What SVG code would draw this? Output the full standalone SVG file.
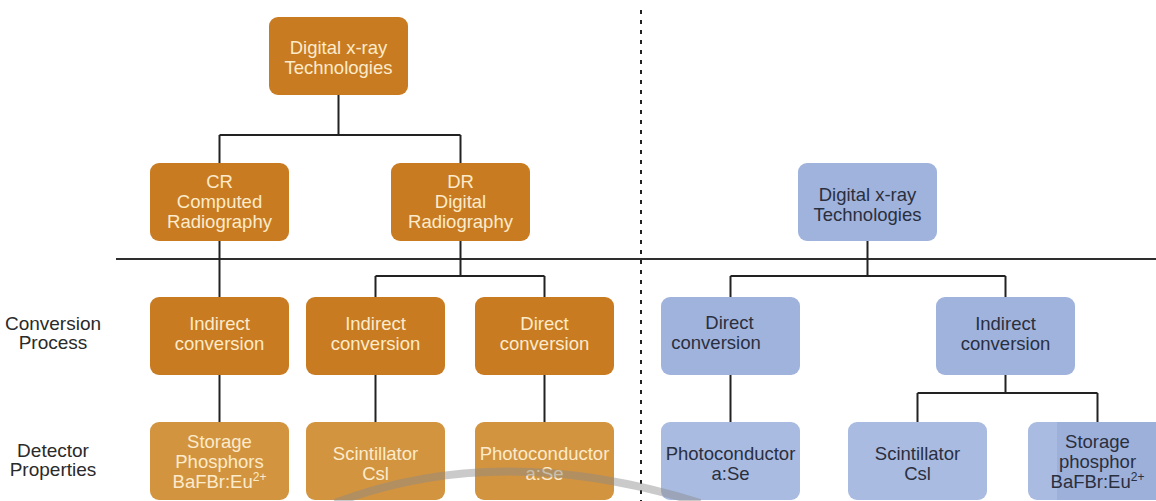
<svg xmlns="http://www.w3.org/2000/svg" width="1156" height="501" viewBox="0 0 1156 501">
<defs>
<style>
.o{fill:#C97B22}
.ol{fill:#D39440}
.b{fill:#A0B3DC}
.bl{fill:#A9BBE0}
.t{font-family:"Liberation Sans",Arial,Helvetica,sans-serif;font-size:18.5px;text-anchor:middle}
.to{fill:#FBEBCB}
.tb{fill:#2A2F3E}
.lab{font-family:"Liberation Sans",Arial,Helvetica,sans-serif;font-size:19px;text-anchor:middle;fill:#2a2a2a}
.c{stroke:#222;stroke-width:2;fill:none}
.sup{font-size:12px}
</style>
</defs>
<rect width="1156" height="501" fill="#ffffff"/>

<g id="separators">
<line x1="116" y1="259" x2="1156" y2="259" stroke="#2e2e2e" stroke-width="1.8"/>
<line x1="641" y1="10" x2="641" y2="501" stroke="#222" stroke-width="2" stroke-dasharray="4 6"/>
</g>

<g id="connectors" class="c">
<path d="M338.5 95V135M219.5 135H460.5M219.5 135V163M460.5 135V163"/>
<path d="M219.5 241V297"/>
<path d="M460.5 241V276M375.5 276H544.5M375.5 276V297M544.5 276V297"/>
<path d="M219.5 375V422M375.5 375V422M544.5 375V422"/>
<path d="M867.5 241V276M730.5 276H1005.5M730.5 276V297M1005.5 276V297"/>
<path d="M730.5 375V422"/>
<path d="M1005.5 375V393M917.5 393H1097.5M917.5 393V422M1097.5 393V422"/>
</g>

<g id="labels">
<text class="lab" x="53" y="330">Conversion</text>
<text class="lab" x="53" y="349">Process</text>
<text class="lab" x="53" y="457">Detector</text>
<text class="lab" x="53" y="476">Properties</text>
</g>

<g id="n-top">
<rect class="o" x="269" y="17" width="139" height="78" rx="9"/>
<text class="t to" x="338.5" y="54">Digital x-ray</text>
<text class="t to" x="338.5" y="74">Technologies</text>
</g>
<g id="n-cr">
<rect class="o" x="150" y="163" width="139" height="78" rx="9"/>
<text class="t to" x="219.5" y="188">CR</text>
<text class="t to" x="219.5" y="208">Computed</text>
<text class="t to" x="219.5" y="228">Radiography</text>
</g>
<g id="n-dr">
<rect class="o" x="391" y="163" width="139" height="78" rx="9"/>
<text class="t to" x="460.5" y="188">DR</text>
<text class="t to" x="460.5" y="208">Digital</text>
<text class="t to" x="460.5" y="228">Radiography</text>
</g>
<g id="n-ind1">
<rect class="o" x="150" y="297" width="139" height="78" rx="9"/>
<text class="t to" x="219.5" y="330">Indirect</text>
<text class="t to" x="219.5" y="350">conversion</text>
</g>
<g id="n-ind2">
<rect class="o" x="306" y="297" width="139" height="78" rx="9"/>
<text class="t to" x="375.5" y="330">Indirect</text>
<text class="t to" x="375.5" y="350">conversion</text>
</g>
<g id="n-dir">
<rect class="o" x="475" y="297" width="139" height="78" rx="9"/>
<text class="t to" x="544.5" y="330">Direct</text>
<text class="t to" x="544.5" y="350">conversion</text>
</g>
<g id="n-storage">
<rect class="ol" x="150" y="422" width="139" height="78" rx="9"/>
<text class="t to" x="219.5" y="448">Storage</text>
<text class="t to" x="219.5" y="468">Phosphors</text>
<text class="t to" x="219.5" y="488">BaFBr:Eu<tspan class="sup" dy="-7">2+</tspan></text>
</g>
<g id="n-scint">
<rect class="ol" x="306" y="422" width="139" height="78" rx="9"/>
<text class="t to" x="375.5" y="460">Scintillator</text>
<text class="t to" x="375.5" y="480">Csl</text>
</g>
<g id="n-photo">
<rect class="ol" x="475" y="422" width="139" height="78" rx="9"/>
<text class="t to" x="544.5" y="460">Photoconductor</text>
<text class="t to" x="544.5" y="480">a:Se</text>
</g>

<g id="b-top">
<rect class="b" x="798" y="163" width="139" height="78" rx="9"/>
<text class="t tb" x="867.5" y="201">Digital x-ray</text>
<text class="t tb" x="867.5" y="221">Technologies</text>
</g>
<g id="b-dir">
<rect class="b" x="661" y="297" width="139" height="78" rx="9"/>
<text class="t tb" x="729.5" y="329">Direct</text>
<text class="t tb" x="716" y="349">conversion</text>
</g>
<g id="b-ind">
<rect class="b" x="936" y="297" width="139" height="78" rx="9"/>
<text class="t tb" x="1005.5" y="330">Indirect</text>
<text class="t tb" x="1005.5" y="350">conversion</text>
</g>
<g id="b-photo">
<rect class="bl" x="661" y="422" width="139" height="78" rx="9"/>
<text class="t tb" x="730.5" y="460">Photoconductor</text>
<text class="t tb" x="730.5" y="480">a:Se</text>
</g>
<g id="b-scint">
<rect class="bl" x="848" y="422" width="139" height="78" rx="9"/>
<text class="t tb" x="917.5" y="460">Scintillator</text>
<text class="t tb" x="917.5" y="480">Csl</text>
</g>
<g id="b-storage">
<rect class="bl" x="1028" y="422" width="139" height="78" rx="9"/>
<rect x="1057" y="422" width="110" height="78" fill="#9DB0DA"/>
<text class="t tb" x="1097.5" y="448">Storage</text>
<text class="t tb" x="1097.5" y="468">phosphor</text>
<text class="t tb" x="1097.5" y="488">BaFBr:Eu<tspan class="sup" dy="-7">2+</tspan></text>
</g>

<g id="watermark" fill="none" stroke="#8a8a8a" stroke-opacity="0.45">
<path d="M335 503 Q500 440 700 503" stroke-width="8"/>
</g>
</svg>
